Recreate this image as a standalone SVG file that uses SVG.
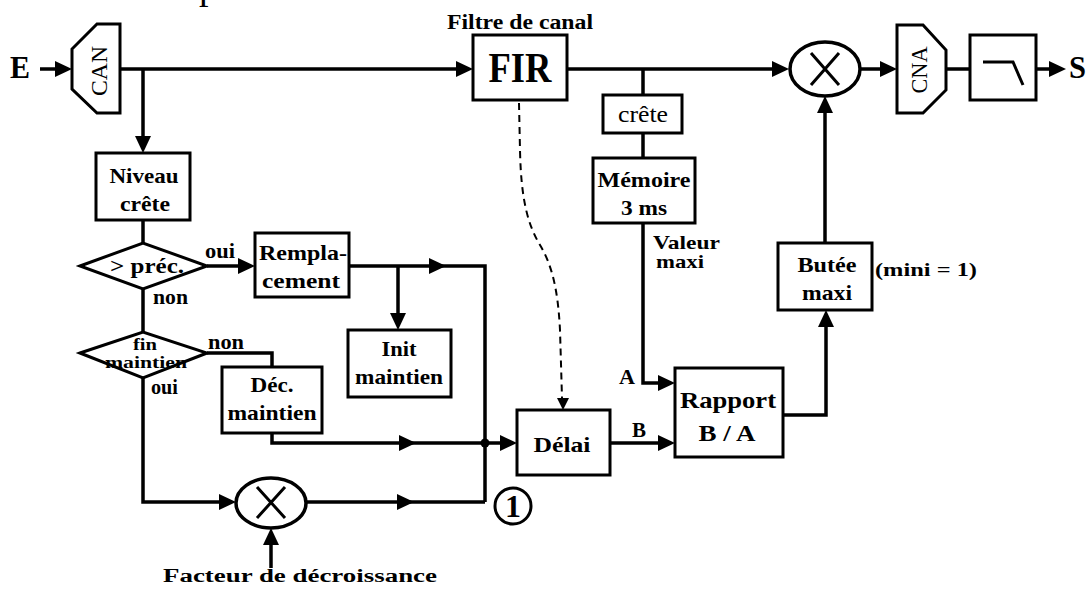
<svg xmlns="http://www.w3.org/2000/svg" xmlns:xlink="http://www.w3.org/1999/xlink" width="1086" height="590" viewBox="0 0 1086 590">
<style>
.bx{fill:#fff;stroke:#000;stroke-width:3}
.ln{fill:none;stroke:#000;stroke-width:3.5}
.t{font-family:"Liberation Serif","Times New Roman",serif;font-weight:bold;fill:#000}
.r{font-family:"Liberation Serif","Times New Roman",serif;font-weight:normal;fill:#000}
.c{text-anchor:middle}
</style>
<defs>
<path id="ah" d="M0,0 L-17,-8 L-17,8 Z" fill="#000"/>
<path id="ahs" d="M0,0 L-12,-6 L-12,6 Z" fill="#000"/>
</defs>
<rect width="1086" height="590" fill="#fff"/>
<text class="r" x="199" y="-1" font-size="38">p</text>

<g id="connectors">
<path class="ln" d="M40,69 H60"/>
<use xlink:href="#ah" transform="translate(72,69)"/>
<path class="ln" d="M120,69 H460"/>
<use xlink:href="#ah" transform="translate(473,69)"/>
<path class="ln" d="M143,69 V140"/>
<use xlink:href="#ah" transform="translate(143,153) rotate(90)"/>
<path class="ln" d="M567,69 H775"/>
<use xlink:href="#ah" transform="translate(789,69)"/>
<path class="ln" d="M643,69 V95 M643,133 V158"/>
<path class="ln" d="M643,223 V383 H662"/>
<use xlink:href="#ah" transform="translate(675,383)"/>
<path class="ln" d="M860,69 H884"/>
<use xlink:href="#ah" transform="translate(897,69)"/>
<path class="ln" d="M946,69 H970"/>
<path class="ln" d="M1036,69 H1052"/>
<use xlink:href="#ah" transform="translate(1066,69)"/>
<path class="ln" d="M143,220 V243"/>
<path class="ln" d="M207,266 H242"/>
<use xlink:href="#ah" transform="translate(255,266)"/>
<path class="ln" d="M349,266 H485 V502"/>
<use xlink:href="#ah" transform="translate(446,266)"/>
<path class="ln" d="M398,266 V318"/>
<use xlink:href="#ah" transform="translate(398,330) rotate(90)"/>
<path class="ln" d="M143,289 V332"/>
<path class="ln" d="M207,353 H272 V367"/>
<path class="ln" d="M272,433 V443 H504"/>
<use xlink:href="#ah" transform="translate(416,443)"/>
<use xlink:href="#ah" transform="translate(517,443)"/>
<circle cx="485" cy="443" r="4.5" fill="#000"/>
<path class="ln" d="M143,378 V502 H223"/>
<use xlink:href="#ah" transform="translate(236,502)"/>
<path class="ln" d="M306,502 H485"/>
<use xlink:href="#ah" transform="translate(414,502)"/>
<path class="ln" d="M271,568 V542"/>
<use xlink:href="#ah" transform="translate(271,528) rotate(-90)"/>
<path class="ln" d="M610,443 H662"/>
<use xlink:href="#ah" transform="translate(675,443)"/>
<path class="ln" d="M783,415 H826 V323"/>
<use xlink:href="#ah" transform="translate(826,310) rotate(-90)"/>
<path class="ln" d="M825,243 V110"/>
<use xlink:href="#ah" transform="translate(825,96) rotate(-90)"/>
<path d="M519,103 L520,150 C521,200 528,225 540,245 C552,265 558,290 560,330 L562,398" fill="none" stroke="#000" stroke-width="2" stroke-dasharray="7,5"/>
<use xlink:href="#ahs" transform="translate(563,410) rotate(90)"/>
</g>

<g id="E"><text class="t" x="10" y="78" font-size="31" textLength="20" lengthAdjust="spacingAndGlyphs">E</text></g>
<g id="S"><text class="t" x="1069" y="78" font-size="31" textLength="17" lengthAdjust="spacingAndGlyphs">S</text></g>

<g id="CAN">
<polygon class="bx" points="97,24 120,24 120,113 97,113 72,89 72,49"/>
<text class="r c" transform="translate(107,71) rotate(-90)" font-size="24" textLength="50" lengthAdjust="spacingAndGlyphs">CAN</text>
</g>

<g id="FIR">
<rect class="bx" x="473" y="35" width="94" height="65"/>
<text class="t c" x="520" y="82" font-size="43" textLength="63" lengthAdjust="spacingAndGlyphs">FIR</text>
<text class="t c" x="520" y="29" font-size="20" textLength="146" lengthAdjust="spacingAndGlyphs">Filtre de canal</text>
</g>

<g id="crete">
<rect class="bx" x="603" y="95" width="79" height="38"/>
<text class="r c" x="643" y="122" font-size="23" textLength="50" lengthAdjust="spacingAndGlyphs">crête</text>
</g>

<g id="memoire">
<rect class="bx" x="593" y="158" width="102" height="65"/>
<text class="t c" x="644" y="187" font-size="22" textLength="93" lengthAdjust="spacingAndGlyphs">Mémoire</text>
<text class="t c" x="644" y="215" font-size="22" textLength="46" lengthAdjust="spacingAndGlyphs">3 ms</text>
<text class="t" x="653" y="249" font-size="19" textLength="67" lengthAdjust="spacingAndGlyphs">Valeur</text>
<text class="t" x="656" y="268" font-size="19" textLength="48" lengthAdjust="spacingAndGlyphs">maxi</text>
</g>

<g id="mult1">
<ellipse cx="825" cy="69" rx="35" ry="27" fill="#fff" stroke="#000" stroke-width="3.5"/>
<path d="M811,53 L839,85 M839,53 L811,85" stroke="#000" stroke-width="3" fill="none"/>
</g>

<g id="CNA">
<polygon class="bx" points="897,25 923,25 946,50 946,90 923,113 897,113"/>
<text class="r c" transform="translate(927,70) rotate(-90)" font-size="23" textLength="47" lengthAdjust="spacingAndGlyphs">CNA</text>
</g>

<g id="filtre">
<rect class="bx" x="970" y="35" width="66" height="65"/>
<path d="M983,62 H1013 L1023,85" fill="none" stroke="#000" stroke-width="3"/>
</g>

<g id="niveau">
<rect class="bx" x="96" y="153" width="94" height="67"/>
<text class="t c" x="144" y="183" font-size="22" textLength="69" lengthAdjust="spacingAndGlyphs">Niveau</text>
<text class="t c" x="145" y="211" font-size="22" textLength="50" lengthAdjust="spacingAndGlyphs">crête</text>
</g>

<g id="prec">
<polygon class="bx" points="80,266 143,243 207,266 143,289"/>
<text class="t c" x="147" y="273" font-size="20" textLength="74" lengthAdjust="spacingAndGlyphs">&gt; préc.</text>
<text class="t" x="205" y="258" font-size="20" textLength="30" lengthAdjust="spacingAndGlyphs">oui</text>
<text class="t" x="153" y="304" font-size="20" textLength="35" lengthAdjust="spacingAndGlyphs">non</text>
</g>

<g id="remplacement">
<rect class="bx" x="255" y="233" width="94" height="64"/>
<text class="t c" x="303" y="260" font-size="22" textLength="88" lengthAdjust="spacingAndGlyphs">Rempla-</text>
<text class="t c" x="301" y="288" font-size="22" textLength="78" lengthAdjust="spacingAndGlyphs">cement</text>
</g>

<g id="init">
<rect class="bx" x="348" y="330" width="103" height="67"/>
<text class="t c" x="399" y="356" font-size="22" textLength="35" lengthAdjust="spacingAndGlyphs">Init</text>
<text class="t c" x="399" y="384" font-size="22" textLength="88" lengthAdjust="spacingAndGlyphs">maintien</text>
</g>

<g id="finmaintien">
<polygon class="bx" points="80,353 143,332 207,353 143,378"/>
<text class="t c" x="145" y="350" font-size="16" textLength="24" lengthAdjust="spacingAndGlyphs">fin</text>
<text class="t c" x="146" y="368" font-size="16" textLength="82" lengthAdjust="spacingAndGlyphs">maintien</text>
<text class="t" x="208" y="349" font-size="20" textLength="36" lengthAdjust="spacingAndGlyphs">non</text>
<text class="t" x="151" y="394" font-size="20" textLength="27" lengthAdjust="spacingAndGlyphs">oui</text>
</g>

<g id="dec">
<rect class="bx" x="222" y="367" width="100" height="66"/>
<text class="t c" x="272" y="392" font-size="22" textLength="43" lengthAdjust="spacingAndGlyphs">Déc.</text>
<text class="t c" x="272" y="420" font-size="22" textLength="89" lengthAdjust="spacingAndGlyphs">maintien</text>
</g>

<g id="mult2">
<ellipse cx="271" cy="503" rx="35" ry="25" fill="#fff" stroke="#000" stroke-width="3.5"/>
<path d="M257,487 L285,518 M285,487 L257,518" stroke="#000" stroke-width="3" fill="none"/>
<text class="t c" x="300" y="582" font-size="18" textLength="274" lengthAdjust="spacingAndGlyphs">Facteur de décroissance</text>
</g>

<g id="repere1">
<circle cx="513" cy="506" r="18" fill="#fff" stroke="#000" stroke-width="3"/>
<text class="t c" x="513" y="517" font-size="32" textLength="16" lengthAdjust="spacingAndGlyphs">1</text>
</g>

<g id="delai">
<rect class="bx" x="517" y="410" width="93" height="65"/>
<text class="t c" x="562" y="452" font-size="22" textLength="57" lengthAdjust="spacingAndGlyphs">Délai</text>
<text class="t" x="632" y="437" font-size="20" textLength="14" lengthAdjust="spacingAndGlyphs">B</text>
</g>

<g id="rapport">
<rect class="bx" x="675" y="368" width="108" height="89"/>
<text class="t c" x="728" y="408" font-size="24" textLength="96" lengthAdjust="spacingAndGlyphs">Rapport</text>
<text class="t c" x="727" y="441" font-size="24" textLength="57" lengthAdjust="spacingAndGlyphs">B / A</text>
<text class="t" x="619" y="384" font-size="20" textLength="16" lengthAdjust="spacingAndGlyphs">A</text>
</g>

<g id="butee">
<rect class="bx" x="778" y="243" width="94" height="67"/>
<text class="t c" x="827" y="272" font-size="22" textLength="59" lengthAdjust="spacingAndGlyphs">Butée</text>
<text class="t c" x="827" y="300" font-size="22" textLength="50" lengthAdjust="spacingAndGlyphs">maxi</text>
<text class="t" x="875" y="276" font-size="19" textLength="102" lengthAdjust="spacingAndGlyphs">(mini = 1)</text>
</g>
</svg>
